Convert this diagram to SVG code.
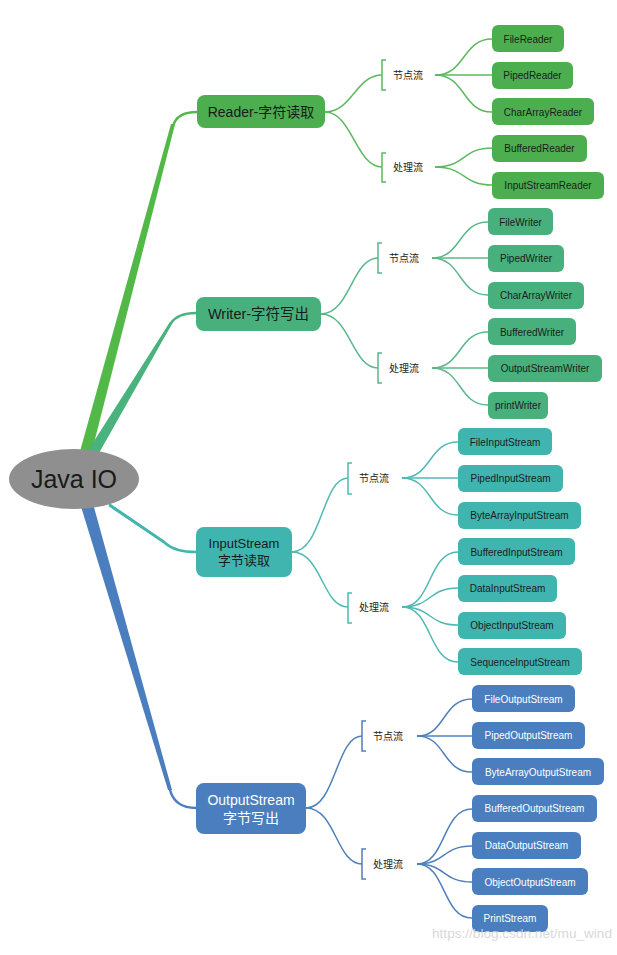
<svg xmlns="http://www.w3.org/2000/svg" width="617" height="955" viewBox="0 0 617 955">
<style>
text{font-family:"Liberation Sans",Arial,"Noto Sans CJK SC",sans-serif;}
.leaf{font-size:10px;text-anchor:middle;fill:#1c1c1c;}
.leafw{font-size:10px;text-anchor:middle;fill:#ffffff;}
.lbl{font-size:10px;fill:#222;}
.mid{text-anchor:middle;fill:#1a1a1a;}
.g{fill:#4cae4f;} .w{fill:#48b07c;} .i{fill:#40b4ae;} .o{fill:#4a7ebe;}
.lg{stroke:#5db85f;} .lw{stroke:#5ab889;} .li{stroke:#4fb9b3;} .lo{stroke:#4f80bb;}
.c path{fill:none;stroke-width:1.5;}
.c path.main{stroke-width:2.5;}
</style>
<g id="connectors" class="c">
  <!-- main connectors -->
  <polygon points="79,455 91,455 175,124 171,124" fill="#52b847"/>
  <path class="main" d="M85,455 L173,126 Q177,112 197,112" stroke="#52b847"/>
  <polygon points="87,452 99,453 173,322 170,322" fill="#49b27d"/>
  <path class="main" d="M93,452 L171,323 Q178,313 196,313" stroke="#49b27d"/>
  <polygon points="105,500 113,509 167,545 165,541" fill="#41b5af"/>
  <path class="main" d="M109,505 L165,543 Q175,552 196,552" stroke="#41b5af"/>
  <polygon points="79,500 92,500 172,790 168,790" fill="#4a7ebe"/>
  <path class="main" d="M85,500 L170,790 Q175,808 196,808" stroke="#4a7ebe"/>
  <!-- Reader -->
  <g class="lg">
    <path d="M325,112 C352,112 356,75 382,75"/>
    <path d="M325,112 C352,112 356,167 382,167"/>
    <path d="M386,60 H382 V90 H386"/>
    <path d="M386,153 H382 V182 H386"/>
    <path d="M435,75 C466,75 462,39 492,39"/>
    <path d="M435,75 H492"/>
    <path d="M435,75 C466,75 462,112 492,112"/>
    <path d="M435,167 C466,167 462,148 492,148"/>
    <path d="M435,167 C466,167 462,185 492,185"/>
  </g>
  <!-- Writer -->
  <g class="lw">
    <path d="M321,314 C350,314 352,258 378,258"/>
    <path d="M321,314 C350,314 352,368 378,368"/>
    <path d="M382,243 H378 V273 H382"/>
    <path d="M382,353 H378 V383 H382"/>
    <path d="M432,258 C462,258 458,222 488,222"/>
    <path d="M432,258 H488"/>
    <path d="M432,258 C462,258 458,295 488,295"/>
    <path d="M432,368 C462,368 458,332 488,332"/>
    <path d="M432,368 H488"/>
    <path d="M432,368 C462,368 458,405 488,405"/>
  </g>
  <!-- InputStream -->
  <g class="li">
    <path d="M292,552 C322,552 322,478 348,478"/>
    <path d="M292,552 C322,552 322,607 348,607"/>
    <path d="M352,463 H348 V494 H352"/>
    <path d="M352,593 H348 V623 H352"/>
    <path d="M402,478 C432,478 428,442 458,442"/>
    <path d="M402,478 H458"/>
    <path d="M402,478 C432,478 428,515 458,515"/>
    <path d="M402,607 C432,607 428,552 458,552"/>
    <path d="M402,607 C432,607 428,588 458,588"/>
    <path d="M402,607 C432,607 428,625 458,625"/>
    <path d="M402,607 C432,607 428,662 458,662"/>
  </g>
  <!-- OutputStream -->
  <g class="lo">
    <path d="M306,808 C336,808 336,736 362,736"/>
    <path d="M306,808 C336,808 336,864 362,864"/>
    <path d="M366,721 H362 V751 H366"/>
    <path d="M366,849 H362 V879 H366"/>
    <path d="M417,736 C446,736 442,699 472,699"/>
    <path d="M417,736 H472"/>
    <path d="M417,736 C446,736 442,772 472,772"/>
    <path d="M417,864 C446,864 442,809 472,809"/>
    <path d="M417,864 C446,864 442,846 472,846"/>
    <path d="M417,864 C446,864 442,882 472,882"/>
    <path d="M417,864 C446,864 442,918 472,918"/>
  </g>
</g>

<g id="root">
  <ellipse cx="74" cy="479" rx="65" ry="30" fill="#8f8f8f"/>
  <text x="74" y="488" class="mid" style="font-size:25px">Java IO</text>
</g>

<g id="reader">
  <rect x="197" y="95" width="128" height="33" rx="8" class="g"/>
  <text x="261" y="117" class="mid" style="font-size:14px">Reader-字符读取</text>
</g>
<g id="reader-node"><text x="393" y="79" class="lbl">节点流</text></g>
<g id="reader-proc"><text x="393" y="171" class="lbl">处理流</text></g>
<g id="FileReader"><rect x="492" y="25" width="72" height="27" rx="6" class="g"/><text x="528" y="42.5" class="leaf">FileReader</text></g>
<g id="PipedReader"><rect x="492" y="62" width="81" height="27" rx="6" class="g"/><text x="532.5" y="79" class="leaf">PipedReader</text></g>
<g id="CharArrayReader"><rect x="492" y="98" width="102" height="27" rx="6" class="g"/><text x="543" y="115.5" class="leaf">CharArrayReader</text></g>
<g id="BufferedReader"><rect x="492" y="135" width="95" height="27" rx="6" class="g"/><text x="539.5" y="152" class="leaf">BufferedReader</text></g>
<g id="InputStreamReader"><rect x="492" y="172" width="112" height="27" rx="6" class="g"/><text x="548" y="189" class="leaf">InputStreamReader</text></g>

<g id="writer">
  <rect x="196" y="297" width="125" height="34" rx="8" class="w"/>
  <text x="258.5" y="319" class="mid" style="font-size:14.5px">Writer-字符写出</text>
</g>
<g id="writer-node"><text x="389" y="262" class="lbl">节点流</text></g>
<g id="writer-proc"><text x="389" y="372" class="lbl">处理流</text></g>
<g id="FileWriter"><rect x="488" y="208" width="65" height="27" rx="6" class="w"/><text x="520.5" y="225.5" class="leaf">FileWriter</text></g>
<g id="PipedWriter"><rect x="488" y="245" width="76" height="27" rx="6" class="w"/><text x="526" y="262" class="leaf">PipedWriter</text></g>
<g id="CharArrayWriter"><rect x="488" y="282" width="96" height="27" rx="6" class="w"/><text x="536" y="299" class="leaf">CharArrayWriter</text></g>
<g id="BufferedWriter"><rect x="488" y="318" width="88" height="27" rx="6" class="w"/><text x="532" y="335.5" class="leaf">BufferedWriter</text></g>
<g id="OutputStreamWriter"><rect x="488" y="355" width="114" height="27" rx="6" class="w"/><text x="545" y="372" class="leaf">OutputStreamWriter</text></g>
<g id="printWriter"><rect x="488" y="392" width="60" height="27" rx="6" class="w"/><text x="518" y="409" class="leaf">printWriter</text></g>

<g id="inputstream">
  <rect x="196" y="527" width="96" height="50" rx="8" class="i"/>
  <text x="244" y="548" class="mid" style="font-size:13px">InputStream</text>
  <text x="244" y="565" class="mid" style="font-size:13px">字节读取</text>
</g>
<g id="input-node"><text x="359" y="482" class="lbl">节点流</text></g>
<g id="input-proc"><text x="359" y="611" class="lbl">处理流</text></g>
<g id="FileInputStream"><rect x="458" y="428" width="94" height="27" rx="6" class="i"/><text x="505" y="445.5" class="leaf">FileInputStream</text></g>
<g id="PipedInputStream"><rect x="458" y="465" width="105" height="27" rx="6" class="i"/><text x="510.5" y="482" class="leaf">PipedInputStream</text></g>
<g id="ByteArrayInputStream"><rect x="458" y="502" width="123" height="27" rx="6" class="i"/><text x="519.5" y="519" class="leaf">ByteArrayInputStream</text></g>
<g id="BufferedInputStream"><rect x="458" y="538" width="117" height="27" rx="6" class="i"/><text x="516.5" y="555.5" class="leaf">BufferedInputStream</text></g>
<g id="DataInputStream"><rect x="458" y="575" width="99" height="27" rx="6" class="i"/><text x="507.5" y="592" class="leaf">DataInputStream</text></g>
<g id="ObjectInputStream"><rect x="458" y="612" width="108" height="27" rx="6" class="i"/><text x="512" y="629" class="leaf">ObjectInputStream</text></g>
<g id="SequenceInputStream"><rect x="458" y="648" width="124" height="27" rx="6" class="i"/><text x="520" y="665.5" class="leaf">SequenceInputStream</text></g>

<g id="outputstream">
  <rect x="196" y="783" width="110" height="51" rx="8" class="o"/>
  <text x="251" y="805" class="mid" style="font-size:14px;fill:#fff">OutputStream</text>
  <text x="251" y="823" class="mid" style="font-size:14px;fill:#fff">字节写出</text>
</g>
<g id="output-node"><text x="373" y="740" class="lbl">节点流</text></g>
<g id="output-proc"><text x="373" y="868" class="lbl">处理流</text></g>
<g id="FileOutputStream"><rect x="472" y="685" width="103" height="27" rx="6" class="o"/><text x="523.5" y="702.5" class="leafw">FileOutputStream</text></g>
<g id="PipedOutputStream"><rect x="472" y="722" width="113" height="27" rx="6" class="o"/><text x="528.5" y="739" class="leafw">PipedOutputStream</text></g>
<g id="ByteArrayOutputStream"><rect x="472" y="758" width="132" height="27" rx="6" class="o"/><text x="538" y="775.5" class="leafw">ByteArrayOutputStream</text></g>
<g id="BufferedOutputStream"><rect x="472" y="795" width="125" height="27" rx="6" class="o"/><text x="534.5" y="812" class="leafw">BufferedOutputStream</text></g>
<g id="DataOutputStream"><rect x="472" y="832" width="109" height="27" rx="6" class="o"/><text x="526.5" y="849" class="leafw">DataOutputStream</text></g>
<g id="ObjectOutputStream"><rect x="472" y="868" width="116" height="27" rx="6" class="o"/><text x="530" y="885.5" class="leafw">ObjectOutputStream</text></g>
<g id="PrintStream"><rect x="472" y="905" width="76" height="27" rx="6" class="o"/><text x="510" y="922" class="leafw">PrintStream</text></g>

<text x="432" y="938" textLength="180" lengthAdjust="spacingAndGlyphs" style="font-size:13.5px;fill:#d6d6d6;opacity:0.9">https://blog.csdn.net/mu_wind</text>
</svg>
